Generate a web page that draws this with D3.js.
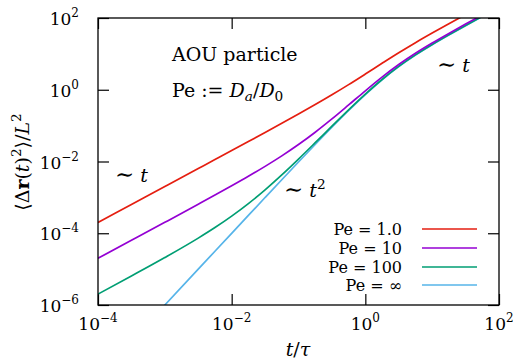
<!DOCTYPE html>
<html>
<head>
<meta charset="utf-8">
<script src="https://cdn.jsdelivr.net/npm/d3@7"></script>
<style>
  body { margin: 0; background: #fff; }
</style>
</head>
<body>
<div id="chart"></div>
<script>
// time points t/tau
const times = [1e-4, 3.1623e-4, 1e-3, 3.1623e-3, 5.6234e-3, 1e-2, 1.7783e-2, 3.1623e-2, 5.6234e-2,
    0.1, 0.17783, 0.31623, 0.56234, 1, 1.7783, 3.1623, 5.6234, 10, 17.783, 31.623, 56.234, 100];

// MSD values, one array per Pe
const msdPe1 = [2.0e-4, 6.326e-4, 2.001e-3, 6.335e-3, 0.01128, 0.0201, 0.03588, 0.06424, 0.1156,
    0.2097, 0.3855, 0.7227, 1.389, 2.736, 5.451, 10.73, 20.50, 38.0, 69.13, 124.5, 222.9, 398];
const msdPe10 = [2.001e-5, 6.335e-5, 2.01e-4, 6.425e-4, 1.156e-3, 2.1e-3, 3.871e-3, 7.314e-3, 0.01435,
    0.02968, 0.0654, 0.1535, 0.3769, 0.9358, 2.25, 5.042, 10.38, 20.0, 37.12, 67.57, 121.7, 218];
const msdPe100 = [2.01e-6, 6.425e-6, 2.1e-5, 7.324e-5, 1.44e-4, 2.997e-4, 6.7e-4, 1.622e-3, 4.229e-3,
    0.01168, 0.03339, 0.09656, 0.2757, 0.7558, 1.93, 4.472, 9.366, 18.2, 33.92, 61.88, 111.6, 200];
const msdPeInf = [1e-8, 1e-7, 1e-6, 9.99e-6, 3.156e-5, 9.967e-5, 3.144e-4, 9.895e-4, 3.104e-3,
    9.675e-3, 0.02983, 0.09024, 0.2644, 0.7358, 1.894, 4.409, 9.254, 18.0, 33.57, 61.25, 110.5, 198];

const seriesNames = ['1.0', '10', '100', '∞'];
const seriesValues = [msdPe1, msdPe10, msdPe100, msdPeInf];
const colors = ['#e51e10', '#9400d3', '#009e73', '#56b4e9'];

const xTicks = [-4, -2, 0, 2];
const yTicks = [-6, -4, -2, 0, 2];

let width = 513;
let height = 360;
let margin = { top: 18, right: 14, bottom: 55, left: 98 };

let x = d3.scaleLog()
    .domain([1e-4, 1e2])
    .range([margin.left, width - margin.right]);

let y = d3.scaleLog()
    .domain([1e-6, 1e2])
    .range([height - margin.bottom, margin.top]);

const svg = d3.select('#chart')
    .append('svg')
    .attr('width', width)
    .attr('height', height)
    .style('font-family', '"DejaVu Serif", serif');

svg.append('clipPath')
    .attr('id', 'plot-clip')
    .append('rect')
    .attr('x', margin.left)
    .attr('y', margin.top)
    .attr('width', width - margin.right - margin.left)
    .attr('height', height - margin.bottom - margin.top);

// ticks on all four sides, pointing inward
let tickLen = 11;
let axes = [
    [d3.axisBottom(x).tickValues(xTicks.map(e => Math.pow(10, e))), `translate(0,${height - margin.bottom})`],
    [d3.axisTop(x).tickValues(xTicks.map(e => Math.pow(10, e))), `translate(0,${margin.top})`],
    [d3.axisLeft(y).tickValues(yTicks.map(e => Math.pow(10, e))), `translate(${margin.left},0)`],
    [d3.axisRight(y).tickValues(yTicks.map(e => Math.pow(10, e))), `translate(${width - margin.right},0)`]
];
axes.forEach(([ax, tr]) => {
    let g = svg.append('g')
        .attr('transform', tr)
        .call(ax.tickSizeInner(-tickLen).tickSizeOuter(0).tickFormat(''));
    g.select('.domain').remove();
    g.attr('font-family', null);
    g.selectAll('line').attr('stroke', '#000').attr('stroke-width', 1.2);
});

// curves
let line = d3.line()
    .x(d => x(d[0]))
    .y(d => y(d[1]))
    .curve(d3.curveMonotoneX);

let curves = svg.append('g').attr('clip-path', 'url(#plot-clip)');
// draw infinity first so the others sit on top at late times
[3, 2, 1, 0].forEach(i => {
    curves.append('path')
        .datum(times.map((t, j) => [t, seriesValues[i][j]]))
        .attr('fill', 'none')
        .attr('stroke', colors[i])
        .attr('stroke-width', 1.7)
        .attr('d', line);
});

// frame
svg.append('rect')
    .attr('x', margin.left)
    .attr('y', margin.top)
    .attr('width', width - margin.right - margin.left)
    .attr('height', height - margin.bottom - margin.top)
    .attr('fill', 'none')
    .attr('stroke', '#000')
    .attr('stroke-width', 1.3);

let fs = 19;
let tfs = 17;

// power-of-ten label helper
function powLabel(sel, e) {
    sel.append('tspan').text('10');
    sel.append('tspan')
        .attr('dy', -8)
        .attr('font-size', 12)
        .text(e < 0 ? '\u2212' + Math.abs(e) : e);
}

xTicks.forEach(e => {
    let t = svg.append('text')
        .attr('x', x(Math.pow(10, e)))
        .attr('y', 330)
        .attr('text-anchor', 'middle')
        .attr('font-size', tfs);
    powLabel(t, e);
});

yTicks.forEach(e => {
    let t = svg.append('text')
        .attr('x', 79)
        .attr('y', y(Math.pow(10, e)) + 7)
        .attr('text-anchor', 'end')
        .attr('font-size', tfs);
    powLabel(t, e);
});

// axis titles
let xt = svg.append('text')
    .attr('x', 298)
    .attr('y', 356)
    .attr('text-anchor', 'middle')
    .attr('font-size', fs);
xt.append('tspan').attr('font-style', 'italic').text('t');
xt.append('tspan').text('/');
xt.append('tspan').attr('font-style', 'italic').text('τ');

let yt = svg.append('text')
    .attr('transform', 'translate(29,162) rotate(-90)')
    .attr('text-anchor', 'middle')
    .attr('font-size', fs);
yt.append('tspan').text('⟨Δ');
yt.append('tspan').attr('font-weight', 'bold').text('r');
yt.append('tspan').text('(');
yt.append('tspan').attr('font-style', 'italic').text('t');
yt.append('tspan').text(')');
yt.append('tspan').attr('dy', -8).attr('font-size', fs * 0.72).text('2');
yt.append('tspan').attr('dy', 8).text('⟩/');
yt.append('tspan').attr('font-style', 'italic').text('L');
yt.append('tspan').attr('dy', -8).attr('font-size', fs * 0.72).text('2');

// annotations
svg.append('text')
    .attr('x', 172)
    .attr('y', 61)
    .attr('font-size', fs)
    .text('AOU particle');

let pe = svg.append('text')
    .attr('x', 172)
    .attr('y', 97)
    .attr('font-size', fs);
pe.append('tspan').text('Pe := ');
pe.append('tspan').attr('font-style', 'italic').text('D');
pe.append('tspan').attr('dy', 4).attr('font-size', fs * 0.72).attr('font-style', 'italic').text('a');
pe.append('tspan').attr('dy', -4).text('/');
pe.append('tspan').attr('font-style', 'italic').text('D');
pe.append('tspan').attr('dy', 4).attr('font-size', fs * 0.72).text('0');

function scaling(px, py, sup) {
    let t = svg.append('text')
        .attr('x', px)
        .attr('y', py)
        .attr('font-size', fs);
    t.append('tspan').attr('font-size', 23).text('∼');
    t.append('tspan').text(' ');
    t.append('tspan').attr('font-style', 'italic').text('t');
    if (sup) t.append('tspan').attr('dy', -8).attr('font-size', fs * 0.72).text(sup);
}
scaling(115, 182);
scaling(284, 197, '2');
scaling(437, 72);

// legend
let legendY = [229, 248, 267, 285];
seriesNames.forEach((name, i) => {
    svg.append('text')
        .attr('x', 402)
        .attr('y', legendY[i] + 6)
        .attr('text-anchor', 'end')
        .attr('font-size', 16)
        .text('Pe = ' + name);
    svg.append('line')
        .attr('x1', 422)
        .attr('x2', 477)
        .attr('y1', legendY[i])
        .attr('y2', legendY[i])
        .attr('stroke', colors[i])
        .attr('stroke-width', 1.7);
});
</script>
</body>
</html>
